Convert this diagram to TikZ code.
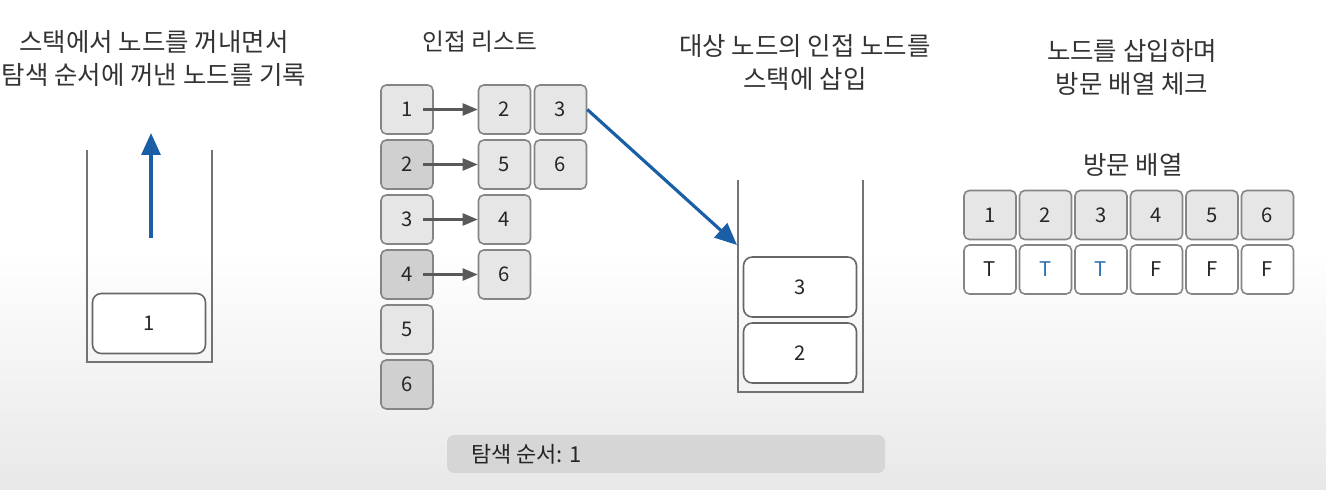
\documentclass[tikz,border=0pt]{standalone}
\usepackage{fontspec}
\setmainfont{Noto Sans CJK KR}
\usepackage{tikz}
\usetikzlibrary{arrows.meta}
\definecolor{boxline}{HTML}{858585}
\definecolor{lightcell}{HTML}{E6E6E6}
\definecolor{darkcell}{HTML}{D0D0D0}
\definecolor{pushblue}{HTML}{1A5FA6}
\definecolor{visitblue}{HTML}{2E72B5}

\begin{document}
\begin{tikzpicture}[
    every node/.style={font=\fontsize{11.5}{13}\selectfont, text=black!85},
    title/.style={font=\fontsize{14.5}{19}\selectfont, align=center, text=black!80},
    cell/.style={rectangle, rounded corners=3pt, draw=boxline, fill=lightcell,
        line width=0.9pt, minimum width=10.4mm, minimum height=9.8mm, inner sep=0pt},
    darkrow/.style={cell, fill=darkcell},
    flag/.style={cell, fill=white},
    stackbox/.style={rectangle, rounded corners=5pt, draw=black!60, fill=white,
        line width=0.9pt, minimum width=22.6mm, minimum height=12mm, inner sep=0pt},
    wall/.style={draw=black!55, line width=0.9pt},
    link/.style={draw=black!65, line width=1.3pt, -{Triangle[length=3mm, width=2.4mm]}},
    push/.style={draw=pushblue, line width=1.8pt, -{Triangle[length=4.4mm, width=3.8mm]}}
]
\useasboundingbox (0,0) rectangle (26.52,9.78);
\fill[white] (0,0) rectangle (26.52,9.78);
\shade[top color=white, bottom color=black!9] (0,0) rectangle (26.52,4.8);

\node[title] (t1) at (3.08, 8.61) {스택에서 노드를 꺼내면서\\탐색 순서에 꺼낸 노드를 기록};
\node[title, font=\fontsize{13.5}{19}\selectfont] (t2) at (9.60, 8.94) {인접 리스트};
\node[title] (t3) at (16.10, 8.53) {대상 노드의 인접 노드를\\스택에 삽입};
\node[title] (t4) at (22.64, 8.43) {노드를 삽입하며\\방문 배열 체크};
\node[title] (t5) at (22.66, 6.48) {방문 배열};

\draw[wall] (1.74,6.78) -- (1.74,2.54) -- (4.24,2.54) -- (4.24,6.78);
\node[stackbox] (popped) at (2.98, 3.31) {1};
\coordinate (popfrom) at (3.02, 5.02);
\coordinate (popto)   at (3.02, 7.12);
\draw[push] (popfrom) -- (popto);

\node[cell]    (r1) at (8.14, 7.59) {1};
\node[darkrow] (r2) at (8.14, 6.49) {2};
\node[cell]    (r3) at (8.14, 5.39) {3};
\node[darkrow] (r4) at (8.14, 4.29) {4};
\node[cell]    (r5) at (8.14, 3.19) {5};
\node[darkrow] (r6) at (8.14, 2.09) {6};
\node[cell] (n1a) at (10.09, 7.59) {2};
\node[cell] (n1b) at (11.21, 7.59) {3};
\node[cell] (n2a) at (10.09, 6.49) {5};
\node[cell] (n2b) at (11.21, 6.49) {6};
\node[cell] (n3a) at (10.09, 5.39) {4};
\node[cell] (n4a) at (10.09, 4.29) {6};
\draw[link] ([xshift=3.2mm]r1.center) -- (n1a.west);
\draw[link] ([xshift=3.2mm]r2.center) -- (n2a.west);
\draw[link] ([xshift=3.2mm]r3.center) -- (n3a.west);
\draw[link] ([xshift=3.2mm]r4.center) -- (n4a.west);

\draw[wall] (14.76,6.18) -- (14.76,1.94) -- (17.26,1.94) -- (17.26,6.18);
\node[stackbox] (s3) at (16.0, 4.04) {3};
\node[stackbox] (s2) at (16.0, 2.72) {2};
\coordinate (stackin) at (14.74, 4.88);
\draw[push] (n1b.east) -- (stackin);

\node[cell] (v1) at (19.80, 5.48) {1};
\node[cell] (v2) at (20.91, 5.48) {2};
\node[cell] (v3) at (22.02, 5.48) {3};
\node[cell] (v4) at (23.13, 5.48) {4};
\node[cell] (v5) at (24.24, 5.48) {5};
\node[cell] (v6) at (25.35, 5.48) {6};
\node[flag] (f1) at (19.80, 4.39) {T};
\node[flag, text=visitblue] (f2) at (20.91, 4.39) {T};
\node[flag, text=visitblue] (f3) at (22.02, 4.39) {T};
\node[flag] (f4) at (23.13, 4.39) {F};
\node[flag] (f5) at (24.24, 4.39) {F};
\node[flag] (f6) at (25.35, 4.39) {F};

\fill[black!16, rounded corners=4pt] (8.94,0.32) rectangle (17.70,1.08);
\node[anchor=west, font=\fontsize{12.5}{14}\selectfont] (order) at (9.30, 0.70) {탐색 순서: 1};
\end{tikzpicture}
\end{document}
